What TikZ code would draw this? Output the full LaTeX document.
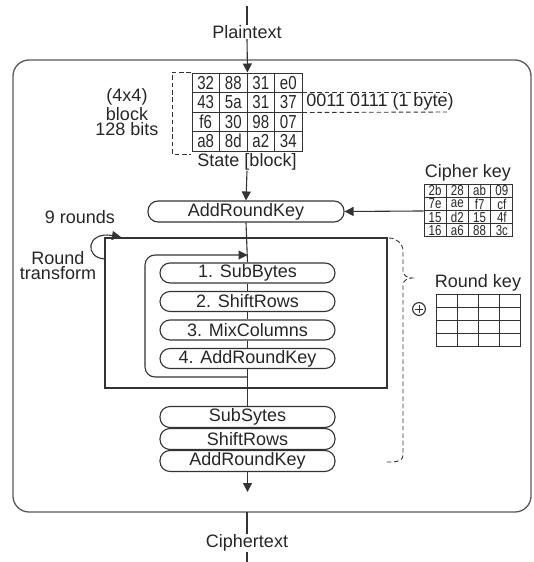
\documentclass[tikz,border=0pt]{standalone}
\usepackage{fontspec}
\setmainfont{Liberation Sans}
\newfontfamily\cellfont[FakeStretch=0.8]{Liberation Sans}
\usetikzlibrary{arrows.meta}

\tikzset{
  ink/.style={draw=black!80, line width=0.55pt},
  arr/.style={ink, -{Triangle[length=4.5pt,width=4.5pt]}},
  lbl/.style={text=black!85, inner sep=0pt, font=\fontsize{9}{10}\selectfont},
  pill/.style={ink, rounded corners=5pt, minimum width=87.5pt, minimum height=10pt,
    inner sep=0pt, text=black!85, font=\fontsize{9}{10}\selectfont},
  cell/.style={draw=black!80, line width=0.5pt, minimum width=13.75pt, minimum height=9.75pt,
    inner sep=0pt, text=black!85, font=\cellfont\fontsize{9.4}{9}\selectfont},
  kcell/.style={cell, minimum width=11.1pt, minimum height=6.6pt, font=\cellfont\fontsize{7.2}{7}\selectfont},
  rcell/.style={cell, minimum width=10.6pt, minimum height=6.5pt},
  dashline/.style={ink, line width=0.45pt, dash pattern=on 2.3pt off 1.4pt},
}

\begin{document}
\begin{tikzpicture}[x=0.5pt,y=-0.5pt]
\useasboundingbox (0,0) rectangle (534,562);

% outer frame
\draw[draw=black!65, line width=0.65pt, rounded corners=8pt] (13,60) rectangle (531,512);

% input
\coordinate (intop) at (247,6);
\node[lbl] (plain) at (247,32) {Plaintext};
\draw[ink] (intop) -- (plain.north);

% state block
\foreach \row/\vals in {1/{32,88,31,e0},2/{43,5a,31,37},3/{f6,30,98,07},4/{a8,8d,a2,34}} {
  \foreach \v [count=\col] in \vals
    \node[cell] (s-\row-\col) at ({192+27.5*(\col-0.5)},{73+19.5*(\row-0.5)}) {\v};
}
\draw[arr] (plain.south) -- (s-1-2.north east);
\draw[dashline] (191,72) -- (172,72) -- (172,154) -- (191,154);
\node[lbl, align=center, font=\fontsize{9}{7.8}\selectfont] (blocklbl) at (127,112) {(4x4)\\block\\128 bits};
\draw[dashline] (s-2-4.north east) -- (447,92);
\draw[dashline] (s-2-4.south east) -- (447,112);
\node[lbl] (bytelbl) at (380,102) {0011 0111 (1 byte)};
\node[lbl] (statelbl) at (247,162) {State [block]};

% initial key addition
\node[pill, minimum width=98pt, minimum height=10.5pt] (add0) at (246,211.5) {AddRoundKey};
\draw[arr] (statelbl.south) -- (add0.north);

% cipher key
\node[lbl] (cklbl) at (468,173) {Cipher key};
\foreach \row/\vals in {1/{2b,28,ab,09},2/{7e,ae,f7,cf},3/{15,d2,15,4f},4/{16,a6,88,3c}} {
  \foreach \v [count=\col] in \vals
    \node[kcell] (k-\row-\col) at ({424+22.25*(\col-0.5)},{184+13.25*(\row-0.5)}) {\v};
}
\draw[arr] (k-2-1.south west) -- (add0.east);

% round transform
\draw[ink] (105,238) rectangle (387,388);
\node[lbl] (nrounds) at (80,217) {9 rounds};
\node[lbl, align=center, font=\fontsize{9}{7.9}\selectfont] (rtlbl) at (58,265.5) {Round\\transform};
\draw[arr] (105,259) .. controls (84,258) and (86,231) .. (121,237);

\node[pill] (sub)   at (247.5,273)   {1. SubBytes};
\node[pill] (shift) at (247.5,301.5) {2. ShiftRows};
\node[pill] (mix)   at (247.5,330)   {3. MixColumns};
\node[pill] (add)   at (247.5,358.5) {4. AddRoundKey};
\draw[ink] (add0.south) -- (sub.north);
\draw[ink] (sub.south) -- (shift.north);
\draw[ink] (shift.south) -- (mix.north);
\draw[ink] (mix.south) -- (add.north);
\draw[arr, rounded corners=5pt] (247.5,377) -- (145,377) -- (145,255) -- (247.5,255);

% round key
\draw[dashline] (389,238) to[out=0,in=90] (403,251) -- (403,271)
  to[out=-90,in=180] (412,278) to[out=180,in=90] (403,285) -- (403,455) to[out=-90,in=0] (384,462);
\node[ink, circle, minimum size=6.4pt, inner sep=0pt] (xor) at (419,309) {};
\draw[ink, line width=0.45pt] ([xshift=-1.9pt]xor.center) -- ([xshift=1.9pt]xor.center)
  ([yshift=-1.9pt]xor.center) -- ([yshift=1.9pt]xor.center);
\node[lbl] (rklbl) at (478,283) {Round key};
\foreach \row in {1,...,4}
  \foreach \col in {1,...,4}
    \node[rcell] (r-\row-\col) at ({436+21.25*(\col-0.5)},{294+13*(\row-0.5)}) {};

% final round
\node[pill, minimum height=10.5pt] (fsub)   at (247.5,417) {SubSytes};
\node[pill, minimum height=10.5pt] (fshift) at (247.5,439) {ShiftRows};
\node[pill, minimum height=10.5pt] (fadd)   at (247.5,461) {AddRoundKey};
\draw[ink] (add.south) -- (fsub.north);
\coordinate (outtip) at (247.5,492);
\draw[arr] (fadd.south) -- (outtip);

% output
\coordinate (frbot) at (247,512);
\coordinate (outbot) at (247,562);
\node[lbl] (ciph) at (247,543) {Ciphertext};
\draw[ink] (frbot) -- (ciph.north);
\draw[ink] (ciph.south) -- (outbot);
\end{tikzpicture}
\end{document}
